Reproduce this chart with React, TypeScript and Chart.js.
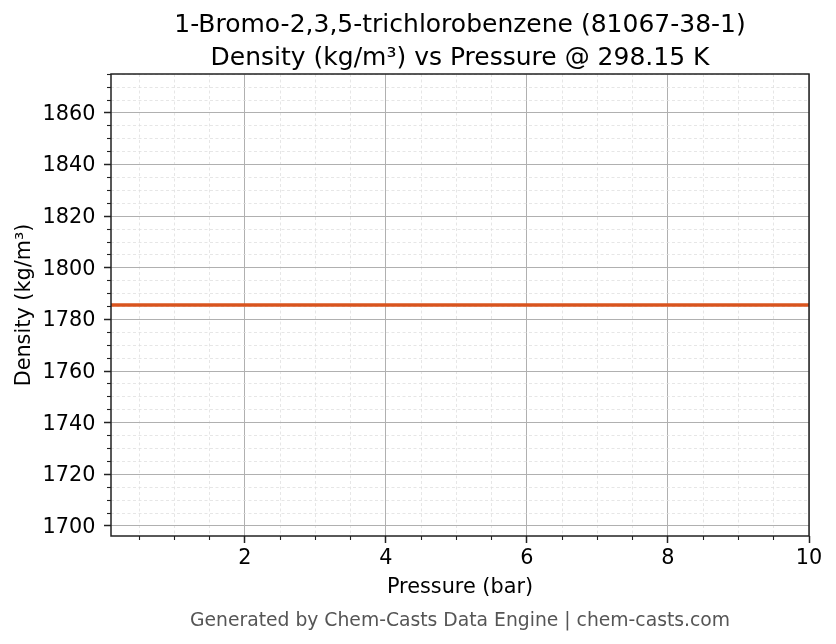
import { useEffect, useRef } from 'react';
import { Chart, registerables } from 'chart.js';

Chart.register(...registerables);

// values
const pressureBar = [0.1, 1, 2, 3, 4, 5, 6, 7, 8, 9, 10];
const densityKgM3 = [1785.6, 1785.6, 1785.6, 1785.6, 1785.6, 1785.6, 1785.6, 1785.6, 1785.6, 1785.6, 1785.6];

const xMajorTicks = [2, 4, 6, 8, 10];
const xMinorTicks = [0.5, 1, 1.5, 2.5, 3, 3.5, 4.5, 5, 5.5, 6.5, 7, 7.5, 8.5, 9, 9.5];
const yMajorTicks = [1700, 1720, 1740, 1760, 1780, 1800, 1820, 1840, 1860];
const yMinorTicks = [
  1705, 1710, 1715, 1725, 1730, 1735, 1745, 1750, 1755, 1765, 1770, 1775,
  1785, 1790, 1795, 1805, 1810, 1815, 1825, 1830, 1835, 1845, 1850, 1855,
  1865, 1870, 1875,
];

const titleLines = ['1-Bromo-2,3,5-trichlorobenzene (81067-38-1)', 'Density (kg/m³) vs Pressure @ 298.15 K'];
const xLabel = 'Pressure (bar)';
const yLabel = 'Density (kg/m³)';
const footerText = 'Generated by Chem-Casts Data Engine | chem-casts.com';

const FONT = 'DejaVu Sans';

// axes box like matplotlib spines
const framePlugin = {
  id: 'frame',
  afterDatasetsDraw(chart: any) {
    const { ctx, chartArea } = chart;
    ctx.save();
    ctx.strokeStyle = '#222';
    ctx.lineWidth = 1.5;
    ctx.strokeRect(chartArea.left, chartArea.top, chartArea.right - chartArea.left, chartArea.bottom - chartArea.top);
    ctx.restore();
  },
};

export default function App() {
  const canvasRef = useRef<HTMLCanvasElement>(null);
  const chartRef = useRef<any>(null);

  useEffect(() => {
    if (!canvasRef.current) return;
    if (chartRef.current) chartRef.current.destroy();

    const ctx = canvasRef.current.getContext('2d');
    if (!ctx) return;

    chartRef.current = new Chart(ctx, {
      type: 'line',
      data: {
        datasets: [
          {
            label: 'Density',
            data: pressureBar.map((p, i) => ({ x: p, y: densityKgM3[i] })),
            borderColor: '#d9541e',
            backgroundColor: '#d9541e',
            borderWidth: 3.5,
            pointRadius: 0,
            fill: false,
            tension: 0,
          },
        ],
      },
      options: {
        responsive: false,
        animation: false,
        layout: { padding: { left: 0, right: 27, top: 0, bottom: 11.75 } },
        plugins: {
          legend: { display: false },
          tooltip: { enabled: false },
          title: {
            display: true,
            text: titleLines,
            fullSize: false,
            color: '#000',
            font: { family: FONT, size: 25, weight: 'normal', lineHeight: 1.296 },
            padding: { top: 9.5, bottom: -0.3 },
          },
          subtitle: {
            display: true,
            text: footerText,
            position: 'bottom',
            fullSize: false,
            color: '#555',
            font: { family: FONT, size: 18.75, weight: 'normal', lineHeight: 1.2 },
            padding: { top: 9.25, bottom: 0 },
          },
        },
        scales: {
          x: {
            type: 'linear',
            position: 'bottom',
            min: 0.1,
            max: 10,
            weight: 0,
            afterBuildTicks: (s: any) => {
              s.ticks = xMajorTicks.map((v) => ({ value: v }));
            },
            afterFit: (s: any) => {
              s.height = 64.5;
            },
            border: { display: false },
            grid: { color: '#b0b0b0', lineWidth: 1, tickLength: 7, tickColor: '#222', tickWidth: 1.5 },
            ticks: {
              color: '#000',
              font: { family: FONT, size: 20.8 },
              padding: 3.5,
              autoSkip: false,
              maxRotation: 0,
              callback: (v: any) => String(v),
            },
            title: {
              display: true,
              text: xLabel,
              color: '#000',
              font: { family: FONT, size: 20.8 },
              padding: { top: 0, bottom: 0 },
            },
          },
          xMinor: {
            type: 'linear',
            position: 'bottom',
            min: 0.1,
            max: 10,
            weight: -1,
            afterBuildTicks: (s: any) => {
              s.ticks = xMinorTicks.map((v) => ({ value: v }));
            },
            afterFit: (s: any) => {
              s.height = 0;
            },
            border: { display: false, dash: [3, 2.5] },
            grid: { color: '#e0e0e0', lineWidth: 0.8, tickLength: 4, tickColor: '#222', tickWidth: 1.1 },
            ticks: { display: false },
          },
          y: {
            type: 'linear',
            position: 'left',
            min: 1696.1,
            max: 1875.1,
            weight: 0,
            afterBuildTicks: (s: any) => {
              s.ticks = yMajorTicks.map((v) => ({ value: v }));
            },
            afterFit: (s: any) => {
              s.width = 111;
            },
            border: { display: false },
            grid: { color: '#b0b0b0', lineWidth: 1, tickLength: 7, tickColor: '#222', tickWidth: 1.5 },
            ticks: {
              color: '#000',
              font: { family: FONT, size: 20.8 },
              padding: 8.5,
              labelOffset: 1.5,
              autoSkip: false,
              callback: (v: any) => String(v),
            },
            title: {
              display: true,
              text: yLabel,
              color: '#000',
              font: { family: FONT, size: 20.8 },
              padding: { top: 12.5, bottom: 0 },
            },
          },
          yMinor: {
            type: 'linear',
            position: 'left',
            min: 1696.1,
            max: 1875.1,
            weight: -1,
            afterBuildTicks: (s: any) => {
              s.ticks = yMinorTicks.map((v) => ({ value: v }));
            },
            afterFit: (s: any) => {
              s.width = 0;
            },
            border: { display: false, dash: [3, 2.5] },
            grid: { color: '#e0e0e0', lineWidth: 0.8, tickLength: 4, tickColor: '#222', tickWidth: 1.1 },
            ticks: { display: false },
          },
        },
      },
      plugins: [framePlugin],
    } as any);

    return () => {
      if (chartRef.current) {
        chartRef.current.destroy();
        chartRef.current = null;
      }
    };
  }, []);

  return (
    <div style={{ position: 'absolute', left: 0, top: 0, width: 836, height: 644, background: '#fff' }}>
      <canvas ref={canvasRef} width={836} height={644}></canvas>
    </div>
  );
}
